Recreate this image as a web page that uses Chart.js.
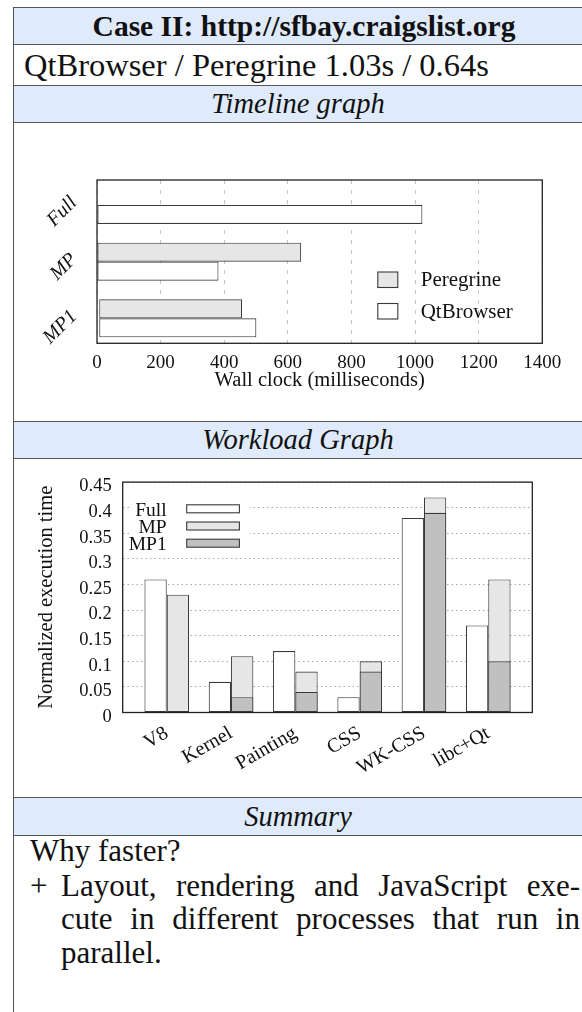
<!DOCTYPE html>
<html>
<head>
<meta charset="utf-8">
<script src="https://cdn.jsdelivr.net/npm/chart.js@4.4.1/dist/chart.umd.min.js"></script>
<style>
  html, body { margin: 0; padding: 0; background: #fff; }
  body { width: 582px; height: 1012px; position: relative; overflow: hidden;
         font-family: "Liberation Serif", serif; color: #111; }
  .hl { position: absolute; left: 13px; right: 0; height: 1px; background: #555; }
  .vl { position: absolute; left: 13px; top: 7px; bottom: 0; width: 1px; background: #555; }
  .band { position: absolute; left: 14px; right: 0; background: #dfebfb; }
  .cell { position: absolute; left: 14px; right: 0; display: flex; align-items: center;
          justify-content: center; white-space: nowrap; }
  .it { font-style: italic; font-size: 28.5px; }
  .line { position: absolute; white-space: nowrap; font-size: 31px; line-height: 34px; }
  .just { text-align: justify; text-align-last: justify; white-space: normal; }
  canvas { position: absolute; }
</style>
</head>
<body>
<div class="band" style="top:7px;height:37px"></div>
<div class="band" style="top:85px;height:37px"></div>
<div class="band" style="top:421px;height:37px"></div>
<div class="band" style="top:797px;height:38px"></div>
<div class="hl" style="top:7px"></div>
<div class="hl" style="top:44px"></div>
<div class="hl" style="top:85px"></div>
<div class="hl" style="top:122px"></div>
<div class="hl" style="top:421px"></div>
<div class="hl" style="top:458px"></div>
<div class="hl" style="top:797px"></div>
<div class="hl" style="top:835px"></div>
<div class="vl"></div>

<div class="cell" style="top:8px;height:36px;left:26px;font-weight:bold;font-size:29.5px">Case II: http://sfbay.craigslist.org</div>
<div class="cell" style="top:45px;height:40px;left:24px;justify-content:flex-start;font-size:32.5px">QtBrowser / Peregrine 1.03s / 0.64s</div>
<div class="cell it" style="top:86px;height:36px">Timeline graph</div>
<div class="cell it" style="top:422px;height:36px">Workload Graph</div>
<div class="cell it" style="top:798px;height:37px">Summary</div>

<div class="line" style="left:30px;top:834px">Why faster?</div>
<div class="line" style="left:30px;top:869px">+</div>
<div class="line just" style="left:61px;width:519px;top:869px">Layout, rendering and JavaScript exe-</div>
<div class="line just" style="left:61px;width:519px;top:902px">cute in different processes that run in</div>
<div class="line" style="left:61px;top:936px">parallel.</div>

<canvas id="timeline" width="568" height="297" style="left:14px;top:123px"></canvas>
<canvas id="workload" width="568" height="336" style="left:14px;top:460px"></canvas>

<script>
// timeline graph (milliseconds)
const timelineLabels = ["Full", "MP", "MP1"];
const peregrineStart = [null, 0, 7];
const peregrineEnd = [null, 642, 456];
const qtStart = [0, 0, 7];
const qtEnd = [1023, 382, 501];
const timelineTicks = ["0", "200", "400", "600", "800", "1000", "1200", "1400"];

// workload graph (normalized execution time)
const workloadLabels = ["V8", "Kernel", "Painting", "CSS", "WK-CSS", "libc+Qt"];
const fullTime = [0.26, 0.06, 0.12, 0.03, 0.38, 0.17];
const mpTime = [0.23, 0.11, 0.08, 0.10, 0.42, 0.26];
const mp1Time = [null, 0.03, 0.04, 0.08, 0.39, 0.10];
const workloadTicks = ["0", "0.05", "0.1", "0.15", "0.2", "0.25", "0.3", "0.35", "0.4", "0.45"];

const FONT = "Liberation Serif";
const INK = "#111";
const EDGE = "#3a3a3a";

const framePlugin = {
  id: "frame",
  afterDraw(chart) {
    const { ctx, chartArea: a } = chart;
    ctx.save();
    ctx.strokeStyle = "#222";
    ctx.lineWidth = 1.3;
    ctx.strokeRect(a.left, a.top, a.right - a.left, a.bottom - a.top);
    ctx.restore();
  },
};

const timelineLegend = {
  id: "timelineLegend",
  afterDatasetsDraw(chart) {
    const { ctx, chartArea: a } = chart;
    ctx.save();
    ctx.font = "21px " + FONT;
    ctx.textBaseline = "middle";
    chart.data.datasets.forEach((ds, i) => {
      const top = a.top + 92 + i * 31.5;
      ctx.fillStyle = ds.backgroundColor;
      ctx.fillRect(a.right - 164.5, top, 20, 15.5);
      ctx.strokeStyle = EDGE;
      ctx.lineWidth = 1.1;
      ctx.strokeRect(a.right - 164.5, top, 20, 15.5);
      ctx.fillStyle = INK;
      ctx.fillText(ds.label, a.right - 121.6, top + 8.5);
    });
    ctx.restore();
  },
};

const workloadLegend = {
  id: "workloadLegend",
  afterDatasetsDraw(chart) {
    const { ctx, chartArea: a } = chart;
    ctx.save();
    ctx.fillStyle = "#fff";
    ctx.fillRect(a.left + 7, a.top + 16, 120, 55);
    ctx.font = "19.5px " + FONT;
    ctx.textBaseline = "middle";
    ctx.textAlign = "right";
    ["Full", "MP", "MP1"].forEach((name, i) => {
      const ds = chart.data.datasets.find(d => d.label === name);
      const cy = a.top + 26.7 + i * 17.2;
      ctx.fillStyle = ds.backgroundColor;
      ctx.fillRect(a.left + 64, cy - 4, 52.7, 8);
      ctx.strokeStyle = EDGE;
      ctx.lineWidth = 1.1;
      ctx.strokeRect(a.left + 64, cy - 4, 52.7, 8);
      ctx.fillStyle = INK;
      ctx.fillText(name, a.left + 44, cy + 2);
    });
    ctx.restore();
  },
};

const barStyle = { borderColor: EDGE, borderWidth: 1.1, borderSkipped: false, barPercentage: 1 };

new Chart(document.getElementById("timeline"), {
  type: "bar",
  data: {
    datasets: [
      {
        label: "Peregrine",
        data: peregrineEnd.map((v, i) => ({ y: i, x: v === null ? null : [peregrineStart[i], v] })),
        backgroundColor: "#e6e6e6",
        categoryPercentage: 0.67,
        ...barStyle,
      },
      {
        label: "QtBrowser",
        data: qtEnd.map((v, i) => ({ y: i, x: v === null ? null : [qtStart[i], v] })),
        backgroundColor: "#ffffff",
        categoryPercentage: 0.67,
        ...barStyle,
      },
    ],
  },
  options: {
    indexAxis: "y",
    responsive: false,
    animation: false,
    layout: { padding: { top: 57, right: 39.7, left: 0, bottom: 0 } },
    plugins: { legend: { display: false }, tooltip: { enabled: false } },
    scales: {
      x: {
        type: "linear",
        min: 0,
        max: 1400,
        afterFit: s => { s.height = 76.7; },
        ticks: { stepSize: 200, padding: 8, color: INK, font: { family: FONT, size: 19 },
                 callback: (v, i) => timelineTicks[i] },
        grid: { color: "#c4c4c4", drawTicks: false },
        border: { display: false, dash: [4, 6] },
        title: { display: true, text: "Wall clock (milliseconds)", color: INK,
                 font: { family: FONT, size: 20.5 }, padding: { top: 0, bottom: 27 } },
      },
      y: {
        type: "linear",
        min: -0.44,
        max: 2.44,
        reverse: true,
        offset: false,
        afterBuildTicks: s => { s.ticks = timelineLabels.map((_, i) => ({ value: i })); },
        afterFit: s => { s.width = 83; },
        ticks: { autoSkip: false, minRotation: 45, maxRotation: 45,
                 padding: 15, labelOffset: -5, color: INK,
                 font: { family: FONT, size: 20, style: "italic" },
                 callback: v => timelineLabels[v] ?? "" },
        grid: { display: false, offset: false },
        border: { display: false },
      },
    },
  },
  plugins: [timelineLegend, framePlugin],
});

const toPoints = arr => arr.map((v, i) => ({ x: i, y: v }));

new Chart(document.getElementById("workload"), {
  type: "bar",
  data: {
    datasets: [
      { label: "Full", data: toPoints(fullTime), stack: "a", order: 0, backgroundColor: "#ffffff",
        categoryPercentage: 0.694, ...barStyle },
      { label: "MP1", data: toPoints(mp1Time), stack: "b", order: 1, backgroundColor: "#c0c0c0",
        categoryPercentage: 0.694, ...barStyle },
      { label: "MP", data: toPoints(mpTime), stack: "b", order: 2, backgroundColor: "#e6e6e6",
        categoryPercentage: 0.694, ...barStyle },
    ],
  },
  options: {
    responsive: false,
    animation: false,
    layout: { padding: { top: 19.3, right: 49.7, left: 0, bottom: 0 } },
    plugins: { legend: { display: false }, tooltip: { enabled: false } },
    scales: {
      x: {
        type: "linear",
        min: -0.685,
        max: 5.685,
        offset: false,
        afterBuildTicks: s => { s.ticks = workloadLabels.map((_, i) => ({ value: i })); },
        afterFit: s => { s.height = 83.5; },
        ticks: { autoSkip: false, minRotation: 30, maxRotation: 30,
                 padding: 1, color: INK, font: { family: FONT, size: 20 },
                 callback: v => workloadLabels[v] ?? "" },
        grid: { display: false, offset: false },
        border: { display: false },
      },
      y: {
        min: 0,
        max: 0.45,
        stacked: false,
        afterFit: s => { s.width = 108.7; },
        ticks: { stepSize: 0.05, padding: 11, labelOffset: 4.5, color: INK,
                 font: { family: FONT, size: 18.5 },
                 callback: (v, i) => workloadTicks[i] },
        grid: { color: "#a8a8a8", drawTicks: false },
        border: { display: false, dash: [1.5, 3] },
        title: { display: true, text: "Normalized execution time", color: INK,
                 font: { family: FONT, size: 20.5 }, padding: { top: 20.7, bottom: 0 } },
      },
    },
  },
  plugins: [workloadLegend, framePlugin],
});
</script>
</body>
</html>
